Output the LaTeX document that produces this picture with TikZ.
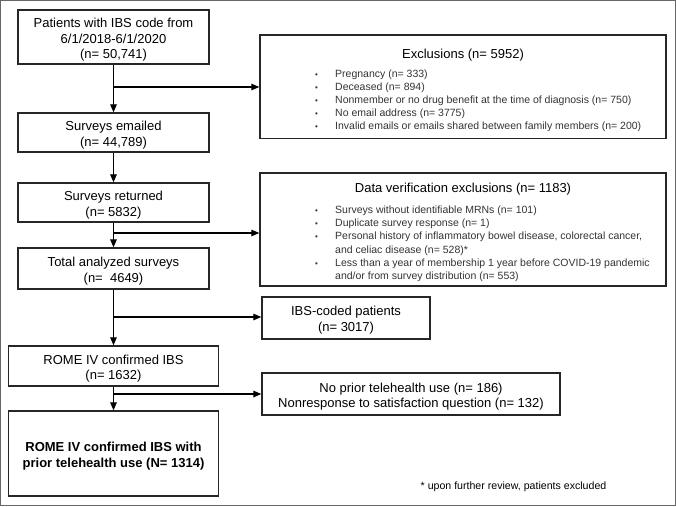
\documentclass[tikz,border=0pt]{standalone}
\usepackage{fontspec}
\setmainfont{Liberation Sans}
\usetikzlibrary{arrows.meta}
\begin{document}
\begin{tikzpicture}[x=1pt,y=-1pt,
  frame/.style={draw=black!85, line width=1.3pt, inner sep=0pt},
  txt/.style={inner sep=0pt, align=center, font=\fontsize{13}{15.5}\selectfont},
  arr/.style={draw=black, line width=1.2pt, -{Triangle[length=8pt,width=6.5pt]}},
  ttl/.style={inner sep=0pt, font=\fontsize{13}{15.5}\selectfont},
  lst/.style={inner sep=0pt, anchor=base west, font=\fontsize{10.5}{13.2}\selectfont, text=black!80},
  note/.style={inner sep=0pt, font=\fontsize{10.6}{13}\selectfont}]
\useasboundingbox (0,0) rectangle (676,506);
\draw[black!60, line width=1pt] (0.5,0.5) rectangle (675.5,505.5);
\newcommand{\bul}{{\fontsize{8}{8}\selectfont\textbullet}}
% main column boxes
\node[frame, minimum width=191pt, minimum height=54pt] (b1) at (113.5,37) {};
\node[frame, minimum width=191pt, minimum height=39pt] (b2) at (113.5,132.5) {};
\node[frame, minimum width=191pt, minimum height=39pt] (b3) at (113.5,202.5) {};
\node[frame, minimum width=191pt, minimum height=41pt] (b4) at (113.5,268.5) {};
\node[frame, minimum width=210pt, minimum height=40pt] (b5) at (113.5,366) {};
\node[frame, minimum width=210pt, minimum height=85pt] (b6) at (113.5,453.5) {};
% main column texts
\node[txt] (b1t) at ([yshift=-3pt]b1.center) {Patients with IBS code from\\6/1/2018-6/1/2020\\(n= 50,741)};
\node[txt] (b2t) at ([yshift=-2.5pt]b2.center) {Surveys emailed\\(n= 44,789)};
\node[txt] (b3t) at ([yshift=-2.5pt]b3.center) {Surveys returned\\(n= 5832)};
\node[txt] (b4t) at ([yshift=-2.5pt]b4.center) {Total analyzed surveys\\(n=\ \ 4649)};
\node[txt] (b5t) at ([yshift=-2.5pt]b5.center) {ROME IV confirmed IBS\\(n= 1632)};
\node[txt, font=\fontsize{13}{16}\selectfont\bfseries] (b6t) at ([yshift=-3pt]b6.center)
  {ROME IV confirmed IBS with\\prior telehealth use (N= 1314)};
% right side boxes
\node[frame, minimum width=406pt, minimum height=103.5pt] (excl) at (463,86.75) {};
\node[ttl] (exclt) at (463,55) {Exclusions (n= 5952)};
\node[lst] (excll) at (315,77) {\begin{tabular}[t]{@{}p{20pt}@{}l@{}}
\bul & Pregnancy (n= 333)\\
\bul & Deceased (n= 894)\\
\bul & Nonmember or no drug benefit at the time of diagnosis (n= 750)\\
\bul & No email address (n= 3775)\\
\bul & Invalid emails or emails shared between family members (n= 200)
\end{tabular}};
\node[frame, minimum width=406pt, minimum height=113pt] (dv) at (463,229.5) {};
\node[ttl] (dvt) at (463,189) {Data verification exclusions (n= 1183)};
\node[lst] (dvl) at (315,213.5) {\begin{tabular}[t]{@{}p{20pt}@{}l@{}}
\bul & Surveys without identifiable MRNs (n= 101)\\
\bul & Duplicate survey response (n= 1)\\
\bul & Personal history of inflammatory bowel disease, colorectal cancer,\\
 & and celiac disease (n= 528)*\\
\bul & Less than a year of membership 1 year before COVID-19 pandemic\\
 & and/or from survey distribution (n= 553)
\end{tabular}};
\node[frame, minimum width=168pt, minimum height=42pt] (ibs) at (346,318) {};
\node[txt] (ibst) at ([yshift=-2pt]ibs.center) {IBS-coded patients\\(n= 3017)};
\node[frame, minimum width=298pt, minimum height=42pt] (np) at (411,394) {};
\node[txt] (npt) at ([yshift=-2.5pt]np.center)
  {No prior telehealth use (n= 186)\\Nonresponse to satisfaction question (n= 132)};
\node[note] (fn) at (513.5,487) {* upon further review, patients excluded};
% connectors
\coordinate (j1) at (113.5,87);
\coordinate (j2) at (113.5,233);
\coordinate (j3) at (113.5,317);
\coordinate (j4) at (113.5,394);
\draw[arr] (b1.south) -- (b2.north);
\draw[arr] (b2.south) -- (b3.north);
\draw[arr] (b3.south) -- (b4.north);
\draw[arr] (b4.south) -- (b5.north);
\draw[arr] (b5.south) -- (b6.north);
\draw[arr] (j1) -- (j1 -| excl.west);
\draw[arr] (j2) -- (j2 -| dv.west);
\draw[arr] (j3) -- (j3 -| ibs.west);
\draw[arr] (j4) -- (j4 -| np.west);
\end{tikzpicture}
\end{document}
